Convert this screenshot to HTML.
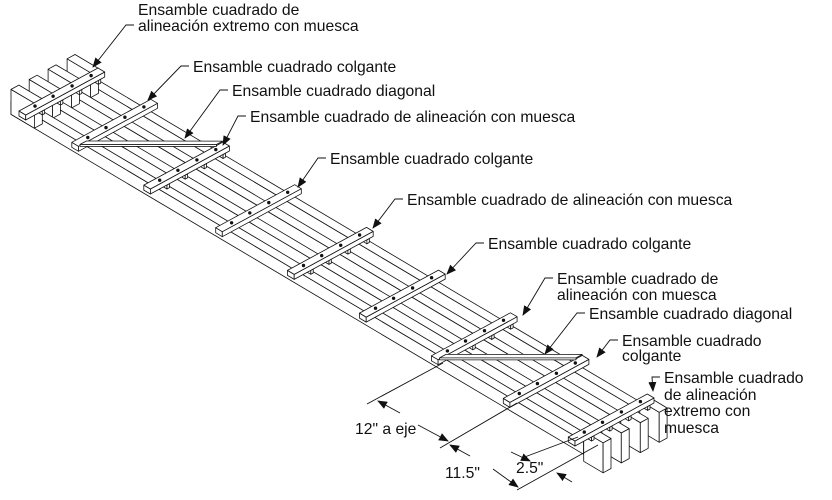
<!DOCTYPE html>
<html><head><meta charset="utf-8"><style>
html,body{margin:0;padding:0;background:#fff;}
svg{display:block;}
text{font-family:"Liberation Sans",Arial,sans-serif;font-size:15.7px;fill:#111;}
</style></head><body>
<svg id="s" width="832" height="500" viewBox="0 0 832 500" xmlns="http://www.w3.org/2000/svg">
<defs><marker id="ar" markerWidth="10" markerHeight="8" refX="9" refY="4" orient="auto" markerUnits="userSpaceOnUse"><path d="M0,0 L10,4 L0,8 z" fill="#111"/></marker></defs>
<g id="draw" stroke="#111" stroke-width="0.8" fill="#fff" stroke-linejoin="round"></g>
<g id="lead" stroke="#111" stroke-width="0.9" fill="none"></g>
<g>
<text x="138" y="15">Ensamble cuadrado de</text>
<text x="138" y="31">alineación extremo con muesca</text>
<text x="193" y="72">Ensamble cuadrado colgante</text>
<text x="232" y="96">Ensamble cuadrado diagonal</text>
<text x="250" y="122">Ensamble cuadrado de alineación con muesca</text>
<text x="330" y="164">Ensamble cuadrado colgante</text>
<text x="407" y="205">Ensamble cuadrado de alineación con muesca</text>
<text x="488" y="249">Ensamble cuadrado colgante</text>
<text x="557" y="284">Ensamble cuadrado de</text>
<text x="557" y="300">alineación con muesca</text>
<text x="589" y="319">Ensamble cuadrado diagonal</text>
<text x="622" y="346">Ensamble cuadrado</text>
<text x="622" y="361">colgante</text>
<text x="664" y="383">Ensamble cuadrado</text>
<text x="664" y="400">de alineación</text>
<text x="664" y="416">extremo con</text>
<text x="664" y="433">muesca</text>
<text x="355" y="434">12" a eje</text>
<text x="445" y="478">11.5"</text>
<text x="516" y="473">2.5"</text>
</g>
</svg>
<script>
(function(){
var D=document.getElementById('draw'),L=document.getElementById('lead');
function P(x,y,z){return [19+556*x+79*y,116+330*x-43*y-z];}
var out='';
function poly(pts){out+='<polygon points="'+pts.map(function(p){return p[0].toFixed(1)+','+p[1].toFixed(1)}).join(' ')+'"/>';}
function box(x0,x1,y0,y1,z0,z1){
 poly([P(x0,y0,z1),P(x1,y0,z1),P(x1,y0,z0),P(x0,y0,z0)]);
 poly([P(x1,y0,z1),P(x1,y1,z1),P(x1,y1,z0),P(x1,y0,z0)]);
 poly([P(x0,y0,z1),P(x1,y0,z1),P(x1,y1,z1),P(x0,y1,z1)]);
}
var cs=[0.87,0.63,0.39,0.16],hw=0.05;
cs.forEach(function(c){
 box(-0.03,1.0,c-hw,c+hw,-13,0);
 box(-0.03,0.012,c-hw,c+hw,-13,12);
 box(1.0,1.035,c-hw,c+hw,-20,10);
});
var XS=[0,0.095,0.2244,0.3537,0.483,0.6124,0.7417,0.871,0.988];
var notch={0:1,2:1,4:1,6:1,8:1};
for(var k=0;k<9;k++){
 var x=XS[k];
 if(notch[k]){cs.forEach(function(c){box(x,x+0.012,c+hw,c+hw+0.03,-4,0);});}
 box(x,x+0.012,0,1.0,0,5);
}
function diag(a,b){
 var xa=XS[a]+0.012,xb=XS[b];
 poly([P(xa,0.02,6),P(xa,0.1,6),P(xb,1.0,6),P(xb,0.92,6)]);
 poly([P(xa,0.02,6),P(xb,0.92,6),P(xb,0.92,4),P(xa,0.02,4)]);
}
diag(1,2);diag(6,7);
for(var k=0;k<9;k++){var x=XS[k]; cs.forEach(function(c){var p=P(x+0.006,c,5);out+='<circle cx="'+p[0].toFixed(1)+'" cy="'+p[1].toFixed(1)+'" r="1.7" fill="#111" stroke="none"/>';});}
D.innerHTML=out;
var ld=[[138,25,93,67],[193,66,148,100],[232,90,185,138],[250,116,223,145],[330,158,298,187],[407,199,373,228],[488,243,447,274],[557,278,523,315],[589,313,545,354],[622,340,597,357],[664,377,653,391]];
var o='';
ld.forEach(function(l){var ex=l[0]-12;o+='<polyline points="'+(l[0]-4)+','+l[1]+' '+ex+','+l[1]+' '+l[2]+','+l[3]+'" marker-end="url(#ar)"/>';});
o+='<line x1="443" y1="363" x2="367" y2="404"/>';
o+='<line x1="517" y1="403" x2="440" y2="448"/>';
o+='<line x1="598" y1="445" x2="517" y2="490"/>';
o+='<line x1="578" y1="437" x2="522" y2="458"/>';
o+='<line x1="400" y1="413" x2="378" y2="401" marker-end="url(#ar)"/>';
o+='<line x1="418" y1="425" x2="448" y2="441" marker-end="url(#ar)"/>';
o+='<line x1="470" y1="456" x2="450" y2="445" marker-end="url(#ar)"/>';
o+='<line x1="493" y1="469" x2="518" y2="487" marker-end="url(#ar)"/>';
o+='<line x1="511" y1="452" x2="530" y2="461" marker-end="url(#ar)"/>';
o+='<line x1="572" y1="482" x2="557" y2="473" marker-end="url(#ar)"/>';
L.innerHTML=o;
})();
</script>
</body></html>
